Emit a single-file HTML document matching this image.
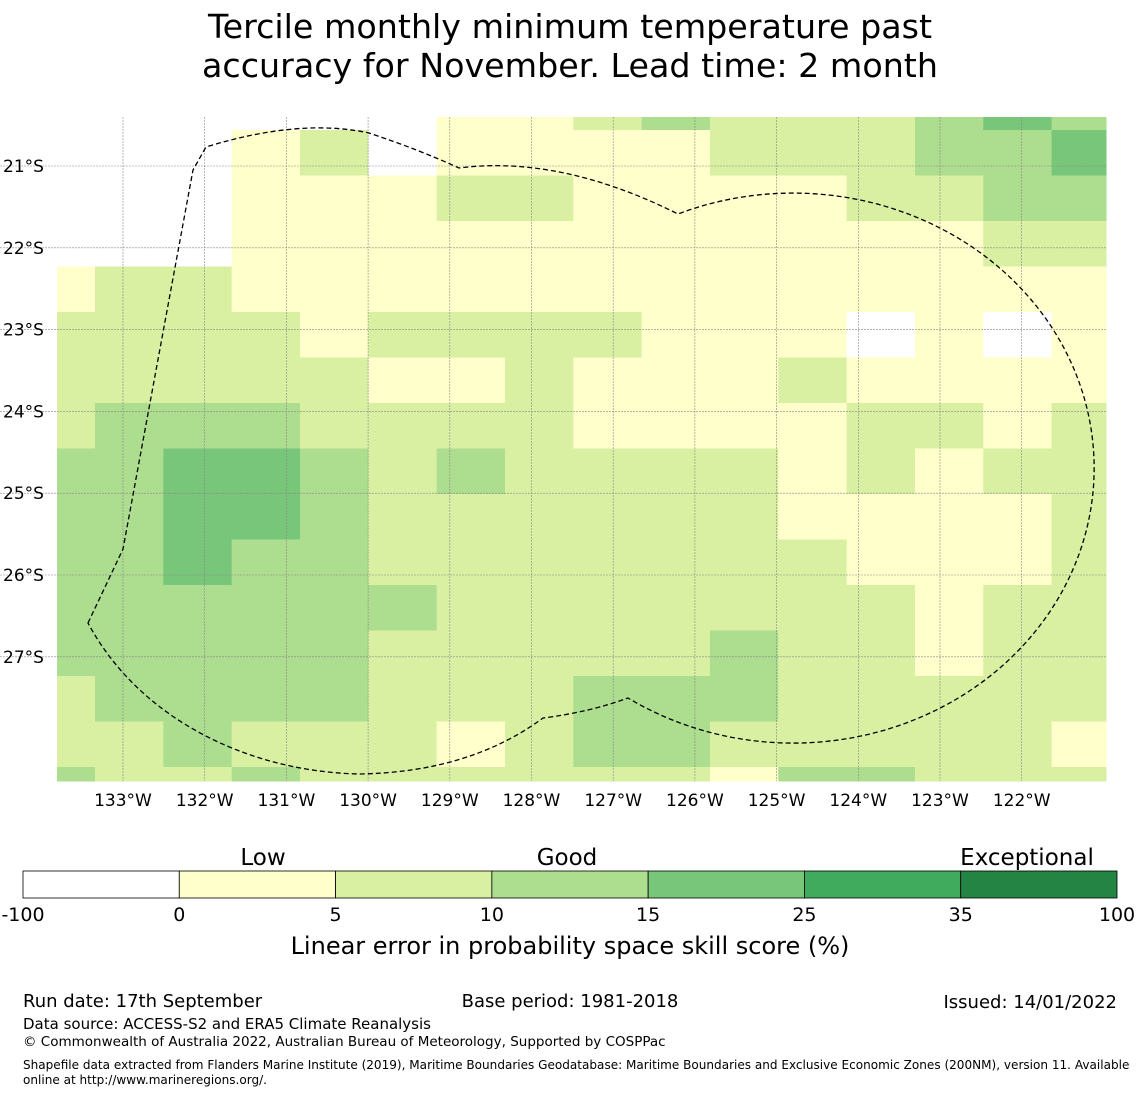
<!DOCTYPE html>
<html><head><meta charset="utf-8"><style>
body{margin:0;background:#fff;font-family:"Liberation Sans","DejaVu Sans",sans-serif}
svg text{font-family:"DejaVu Sans","Liberation Sans",sans-serif}
</style></head><body>
<svg id="c" width="1140" height="1095" viewBox="0 0 1140 1095" xmlns="http://www.w3.org/2000/svg">
<text x="570" y="38" font-size="33.3" text-anchor="middle">Tercile monthly minimum temperature past</text>
<text x="570" y="77" font-size="33.3" text-anchor="middle">accuracy for November. Lead time: 2 month</text>
<g id="cells"></g><g id="grid"></g>
<path d="M88,623 L123,549 L193,170 L206,147 Q300,118 369,133 Q420,150 459,168 Q560,155 678,214 A301 275 0 1 1 628,698 Q590,712 543,718 Q470,772 360,774 C250,772 140,720 88,623 Z" fill="none" stroke="#000" stroke-width="1.3" stroke-dasharray="5,3"/>
<g id="axes"></g>
<g id="cbar"></g>
<text x="263" y="865" font-size="23" text-anchor="middle">Low</text>
<text x="567" y="865" font-size="23" text-anchor="middle">Good</text>
<text x="1027" y="865" font-size="23" text-anchor="middle">Exceptional</text>
<text x="570" y="954" font-size="24" text-anchor="middle">Linear error in probability space skill score (%)</text>
<text x="23" y="1007" font-size="18">Run date: 17th September</text>
<text x="570" y="1007" font-size="18" text-anchor="middle">Base period: 1981-2018</text>
<text x="1117" y="1008" font-size="18" text-anchor="end">Issued: 14/01/2022</text>
<text x="23" y="1029" font-size="15">Data source: ACCESS-S2 and ERA5 Climate Reanalysis</text>
<text x="23" y="1046" font-size="13.5">© Commonwealth of Australia 2022, Australian Bureau of Meteorology, Supported by COSPPac</text>
<text x="23" y="1069" font-size="12.05">Shapefile data extracted from Flanders Marine Institute (2019), Maritime Boundaries Geodatabase: Maritime Boundaries and Exclusive Economic Zones (200NM), version 11. Available</text>
<text x="23" y="1084" font-size="12.05">online at http://www.marineregions.org/.</text>
</svg>
<script>
const colors=["#ffffff","#ffffcc","#d9f0a3","#addd8e","#78c679","#41ab5d","#238443"];
const cbTicks=["-100","0","5","10","15","25","35","100"];
const lonLabels=["133°W","132°W","131°W","130°W","129°W","128°W","127°W","126°W","125°W","124°W","123°W","122°W"];
const latLabels=["21°S","22°S","23°S","24°S","25°S","26°S","27°S"];
const lonVals=[-133,-132,-131,-130,-129,-128,-127,-126,-125,-124,-123,-122];
const latVals=[-21,-22,-23,-24,-25,-26,-27];
const grid=[
"0000001123222343",
"0001201111222334",
"0001112211112233",
"0001111111111122",
"1221111111111111",
"2222122221110101",
"2222211211121111",
"2333222211112212",
"3344323222212122",
"3344322222211112",
"3343322222221112",
"3333332222222122",
"3333322222322122",
"2333322233322222",
"2232221233222221",
"3223222222133222"];
const svg=document.getElementById('c');const NS="http://www.w3.org/2000/svg";
const x=lon=>123+(lon+133)*81.7;
const y=lat=>166+(-21-lat)*81.8;
const colX=i=>57+(i===0?0:38+(i-1)*68.33);
const rowY=j=>117+(j===0?0:13+(j-1)*45.5);
const cells=document.getElementById('cells');
grid.forEach((row,j)=>{[...row].forEach((v,i)=>{
 const x0=colX(i),x1=i===15?1106:colX(i+1),y0=rowY(j),y1=j===15?781:rowY(j+1);
 const r=document.createElementNS(NS,'rect');
 r.setAttribute('x',x0);r.setAttribute('y',y0);r.setAttribute('width',x1-x0+0.5);r.setAttribute('height',y1-y0+0.5);
 r.setAttribute('fill',colors[+v]);
 
 
 cells.appendChild(r);});});
const g=document.getElementById('grid'),ax=document.getElementById('axes');
lonVals.forEach((l,k)=>{const l1=document.createElementNS(NS,'line');
 l1.setAttribute('x1',x(l));l1.setAttribute('x2',x(l));l1.setAttribute('y1',117);l1.setAttribute('y2',781);
 l1.setAttribute('stroke','#888');l1.setAttribute('stroke-width','0.6');l1.setAttribute('stroke-dasharray','2,1');
 
 
 g.appendChild(l1);
 const t=document.createElementNS(NS,'text');t.setAttribute('x',x(l));t.setAttribute('y',806);t.setAttribute('font-size','17');t.setAttribute('text-anchor','middle');t.textContent=lonLabels[k];
 
 
 ax.appendChild(t);});
latVals.forEach((l,k)=>{const l1=document.createElementNS(NS,'line');
 l1.setAttribute('y1',y(l));l1.setAttribute('y2',y(l));l1.setAttribute('x1',0);l1.setAttribute('x2',1106);
 l1.setAttribute('stroke','#888');l1.setAttribute('stroke-width','0.6');l1.setAttribute('stroke-dasharray','2,1');
 
 
 g.appendChild(l1);
 const t=document.createElementNS(NS,'text');t.setAttribute('x',3);t.setAttribute('y',y(l)+6);t.setAttribute('font-size','17');t.textContent=latLabels[k];
 
 
 ax.appendChild(t);});
const cb=document.getElementById('cbar');const segW=(1117-23)/7;
colors.forEach((c,i)=>{const r=document.createElementNS(NS,'rect');
 r.setAttribute('x',23+i*segW);r.setAttribute('y',871);r.setAttribute('width',segW);r.setAttribute('height',27);
 r.setAttribute('fill',c);r.setAttribute('stroke','#000');r.setAttribute('stroke-width','0.8');
 
 
 cb.appendChild(r);});
cbTicks.forEach((s,i)=>{const t=document.createElementNS(NS,'text');
 t.setAttribute('x',23+i*segW);t.setAttribute('y',921);t.setAttribute('font-size','19');t.setAttribute('text-anchor','middle');t.textContent=s;
 
 
 cb.appendChild(t);});
</script>
</body></html>
